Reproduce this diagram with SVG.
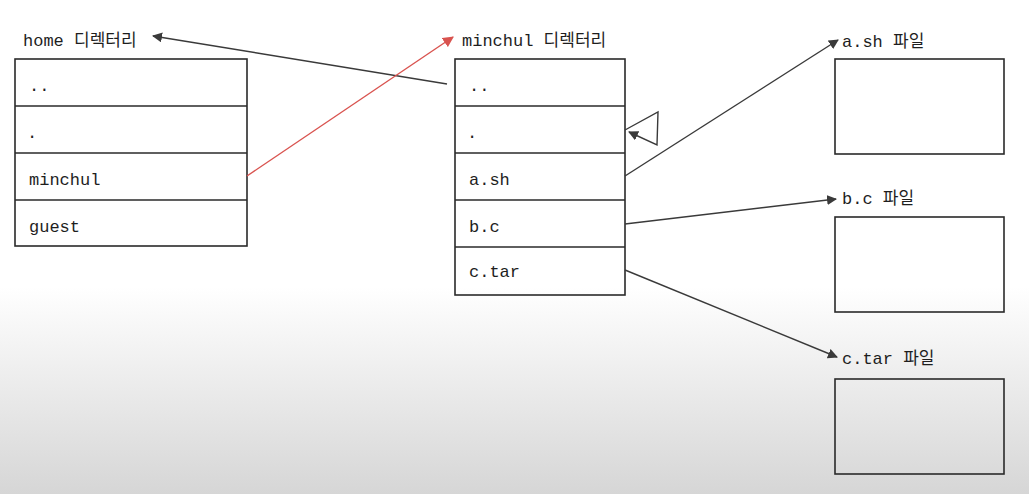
<svg xmlns="http://www.w3.org/2000/svg" width="1029" height="494" viewBox="0 0 1029 494">
<defs>
<linearGradient id="bg" x1="0" y1="0" x2="0" y2="1">
<stop offset="0" stop-color="#ffffff"/>
<stop offset="0.58" stop-color="#ffffff"/>
<stop offset="1" stop-color="#d6d6d6"/>
</linearGradient>
<marker id="ah" viewBox="0 0 10 10" refX="9" refY="5" markerWidth="10" markerHeight="10" markerUnits="userSpaceOnUse" orient="auto">
<path d="M0,0 L10,5 L0,10 z" fill="#3a3a3a"/>
</marker>
<marker id="ahr" viewBox="0 0 10 10" refX="9" refY="5" markerWidth="11" markerHeight="11" markerUnits="userSpaceOnUse" orient="auto">
<path d="M0,0 L10,5 L0,10 z" fill="#d9534f"/>
</marker>
</defs>
<style>
.box{fill:none;stroke:#2a2a2a;stroke-width:1.6}
.sep{stroke:#2a2a2a;stroke-width:1.6}
.t{font-family:"Liberation Mono","Noto Sans CJK KR",monospace;font-size:17px;fill:#1e1e1e}
.lab{font-family:"Liberation Mono","Noto Sans CJK KR",monospace;font-size:17px;fill:#1e1e1e}
.c{fill:none;stroke:#3a3a3a;stroke-width:1.4}
.cr{fill:none;stroke:#d9534f;stroke-width:1.4}
</style>
<rect x="0" y="0" width="1029" height="494" fill="url(#bg)"/>

<g id="home">
<text class="lab" x="23" y="46">home 디렉터리</text>
<rect class="box" x="15" y="59" width="232" height="187" fill="#fff"/>
<line class="sep" x1="15" y1="106" x2="247" y2="106"/>
<line class="sep" x1="15" y1="153" x2="247" y2="153"/>
<line class="sep" x1="15" y1="200" x2="247" y2="200"/>
<text class="t" x="29" y="91">..</text>
<text class="t" x="27" y="138">.</text>
<text class="t" x="29" y="185">minchul</text>
<text class="t" x="29" y="232">guest</text>
</g>

<g id="minchul">
<text class="lab" x="462" y="46">minchul 디렉터리</text>
<rect class="box" x="455" y="59" width="170" height="236"/>
<line class="sep" x1="455" y1="106" x2="625" y2="106"/>
<line class="sep" x1="455" y1="153" x2="625" y2="153"/>
<line class="sep" x1="455" y1="200" x2="625" y2="200"/>
<line class="sep" x1="455" y1="247" x2="625" y2="247"/>
<text class="t" x="469" y="91">..</text>
<text class="t" x="467" y="138">.</text>
<text class="t" x="469" y="185">a.sh</text>
<text class="t" x="469" y="232">b.c</text>
<text class="t" x="469" y="277">c.tar</text>
</g>

<g id="file-a">
<text class="lab" x="842" y="47">a.sh 파일</text>
<rect class="box" x="835" y="59" width="169" height="95"/>
</g>
<g id="file-b">
<text class="lab" x="842" y="204">b.c 파일</text>
<rect class="box" x="835" y="217" width="169" height="95"/>
</g>
<g id="file-c">
<text class="lab" x="842" y="364">c.tar 파일</text>
<rect class="box" x="835" y="379" width="169" height="95"/>
</g>

<g id="connectors">
<line class="c" x1="447" y1="84" x2="153" y2="36" marker-end="url(#ah)"/>
<line class="cr" x1="247" y1="176" x2="453" y2="37" marker-end="url(#ahr)"/>
<polyline class="c" points="625,130 658,112 657,145 629,132" marker-end="url(#ah)"/>
<line class="c" x1="625" y1="176" x2="838" y2="40" marker-end="url(#ah)"/>
<line class="c" x1="625" y1="224" x2="836" y2="199" marker-end="url(#ah)"/>
<line class="c" x1="625" y1="270" x2="837" y2="357" marker-end="url(#ah)"/>
</g>
</svg>
